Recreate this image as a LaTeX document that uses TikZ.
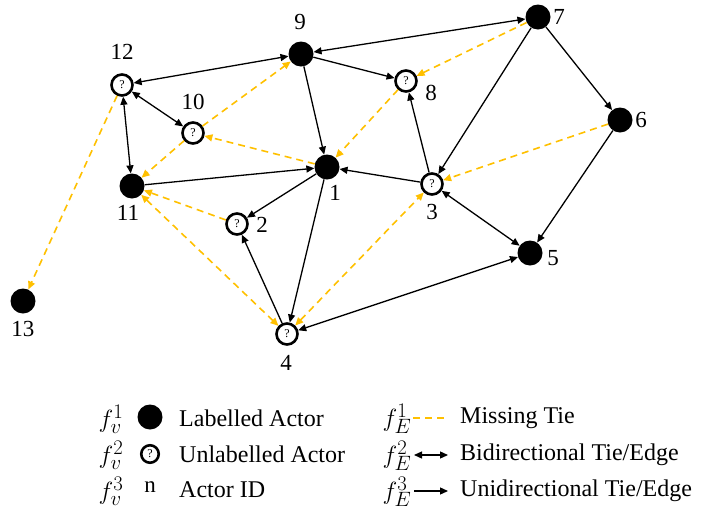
\documentclass[tikz,border=0pt]{standalone}
\usepackage{fontspec}
\setmainfont{Liberation Serif}
\usetikzlibrary{arrows.meta}
\definecolor{tieorange}{RGB}{255,192,0}
\begin{document}
\begin{tikzpicture}[x=1pt,y=-1pt,
  tip/.tip={Triangle[length=8pt,width=7pt]},
  labelled/.style={circle,fill=black,minimum size=25pt,inner sep=0pt},
  unlabelled/.style={circle,draw=black,line width=2.6pt,fill=white,minimum size=21pt,inner sep=0pt,
    font=\fontsize{12}{12}\selectfont},
  idlab/.style={font=\fontsize{23}{23}\selectfont,inner sep=0pt},
  uni/.style={line width=1.3pt,-tip},
  bi/.style={line width=1.3pt,tip-tip},
  miss/.style={draw=tieorange,line width=1.6pt,dash pattern=on 7pt off 5pt,-tip,tip/.tip={Triangle[length=8pt,width=7pt,fill=tieorange]}},
  missbi/.style={miss,tip-tip},
  legtext/.style={font=\fontsize{24}{24}\selectfont,anchor=west,inner sep=0pt},
  legsym/.style={font=\fontsize{24.88}{25}\selectfont,inner sep=0pt}]
\useasboundingbox (0,0) rectangle (705,512);

% actors
\node[labelled]   (n1)  at (327,167) {};
\node[unlabelled] (n2)  at (237,224) {?};
\node[unlabelled] (n3)  at (432,184) {?};
\node[unlabelled] (n4)  at (287,334) {?};
\node[labelled]   (n5)  at (530,253) {};
\node[labelled]   (n6)  at (620,120) {};
\node[labelled]   (n7)  at (538,17)  {};
\node[unlabelled] (n8)  at (406,81)  {?};
\node[labelled]   (n9)  at (301,54)  {};
\node[unlabelled] (n10) at (193,133) {?};
\node[labelled]   (n11) at (132,186) {};
\node[unlabelled] (n12) at (122,85)  {?};
\node[labelled]   (n13) at (23,301)  {};

% actor IDs
\node[idlab] (id1)  at (335,193) {1};
\node[idlab] (id2)  at (262,225) {2};
\node[idlab] (id3)  at (432,212) {3};
\node[idlab] (id4)  at (286,363) {4};
\node[idlab] (id5)  at (553,258) {5};
\node[idlab] (id6)  at (641,120) {6};
\node[idlab] (id7)  at (559,17)  {7};
\node[idlab] (id8)  at (431,93)  {8};
\node[idlab] (id9)  at (300,22)  {9};
\node[idlab] (id10) at (193,102) {10};
\node[idlab] (id11) at (128,213) {11};
\node[idlab] (id12) at (122,52)  {12};
\node[idlab] (id13) at (23,329)  {13};

% missing ties
\draw[miss] (n12) -- (n13);
\draw[miss] (n10) -- (n9);
\draw[miss] (n10) -- (n11);
\draw[miss] (n1) -- (n10);
\draw[miss] (n8) -- (n1);
\draw[miss] (n7) -- (n8);
\draw[miss] (n6) -- (n3);
\draw[miss] (n2) -- (n11);
\draw[missbi] (n11) -- (n4);
\draw[missbi] (n4) -- (n3);

% observed ties
\draw[bi] (n9) -- (n12);
\draw[bi] (n12) -- (n10);
\draw[bi] (n12) -- (n11);
\draw[uni] (n11) -- (n1);
\draw[uni] (n9) -- (n1);
\draw[uni] (n9) -- (n8);
\draw[bi] (n7) -- (n9);
\draw[uni] (n7) -- (n3);
\draw[uni] (n7) -- (n6);
\draw[uni] (n6) -- (n5);
\draw[uni] (n3) -- (n1);
\draw[uni] (n3) -- (n8);
\draw[bi] (n3) -- (n5);
\draw[uni] (n1) -- (n2);
\draw[uni] (n1) -- (n4);
\draw[uni] (n4) -- (n2);
\draw[bi] (n4) -- (n5);

% legend: actors
\node[legsym] (fv1) at (111,419) {$f_v^1$};
\node[legsym] (fv2) at (111,455) {$f_v^2$};
\node[legsym] (fv3) at (111,491) {$f_v^3$};
\node[labelled]   (lg1) at (150,417) {};
\node[unlabelled,minimum size=17.5pt] (lg2) at (150,454) {?};
\node[idlab]      (lg3) at (150,487) {n};
\node[legtext] (lt1) at (179,418) {Labelled Actor};
\node[legtext] (lt2) at (179,454) {Unlabelled Actor};
\node[legtext] (lt3) at (179,490) {Actor ID};

% legend: ties
\node[legsym] (fe1) at (397,419) {$f_E^1$};
\node[legsym] (fe2) at (397,456) {$f_E^2$};
\node[legsym] (fe3) at (397,492) {$f_E^3$};
\coordinate (m1a) at (413,418);
\coordinate (m1b) at (447,418);
\coordinate (m2a) at (414,455);
\coordinate (m2b) at (448,455);
\coordinate (m3a) at (414,491);
\coordinate (m3b) at (448,491);
\draw[draw=tieorange,line width=1.6pt,dash pattern=on 7pt off 5pt] (m1a) -- (m1b);
\draw[bi] (m2a) -- (m2b);
\draw[uni] (m3a) -- (m3b);
\node[legtext] (rt1) at (460,418) {Missing Tie};
\node[legtext] (rt2) at (460,455) {Bidirectional Tie/Edge};
\node[legtext] (rt3) at (460,491) {Unidirectional Tie/Edge};
\end{tikzpicture}
\end{document}
